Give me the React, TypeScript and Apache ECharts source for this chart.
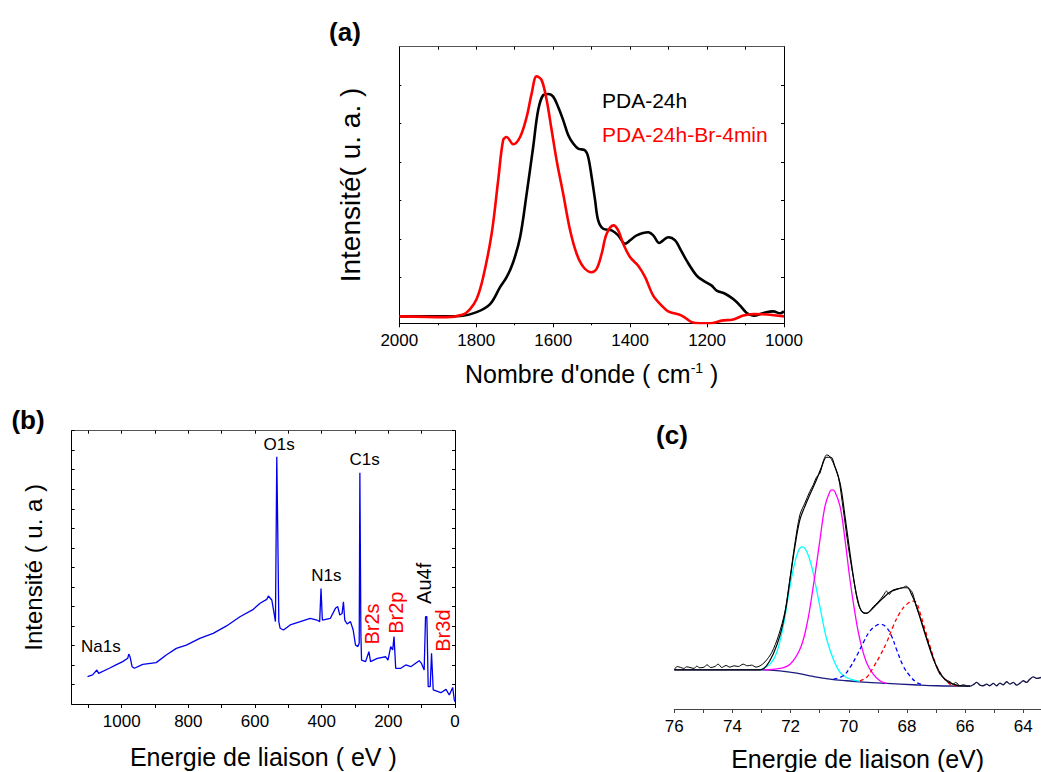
import React, { useEffect, useRef } from "react";
import * as echarts from "echarts";

// ---------- Panel (a): FTIR spectra (wavenumber cm-1, intensity a.u.) ----------
const pda24h: number[][] = [
  [2000, -0.02], [1912, -0.02], [1842, -0.01], [1799, 0.09], [1764, 0.3], [1738, 0.74],
  [1721, 1.0], [1704, 1.39], [1686, 2.04], [1669, 3.17], [1652, 4.39], [1639, 5.35],
  [1626, 5.74], [1613, 5.77], [1600, 5.7], [1587, 5.43], [1574, 5.09], [1561, 4.7],
  [1548, 4.48], [1535, 4.35], [1517, 4.3], [1509, 4.13], [1500, 3.61], [1491, 3.0],
  [1483, 2.48], [1470, 2.26], [1448, 2.22], [1431, 2.09], [1413, 1.87], [1400, 1.96],
  [1383, 2.09], [1353, 2.17], [1340, 2.09], [1324, 1.89], [1314, 1.96], [1301, 2.04],
  [1283, 1.96], [1270, 1.74], [1253, 1.43], [1227, 1.04], [1210, 0.91], [1188, 0.78],
  [1175, 0.65], [1153, 0.57], [1132, 0.43], [1114, 0.26], [1097, 0.07], [1079, 0.0],
  [1053, 0.07], [1028, 0.11], [1010, 0.06], [1000, 0.11],
];
const pda24hBr: number[][] = [
  [2000, -0.02], [1877, -0.04], [1834, 0.03], [1816, 0.17], [1799, 0.43], [1782, 1.0],
  [1760, 2.13], [1743, 3.52], [1730, 4.57], [1721, 4.65], [1704, 4.46], [1686, 4.65],
  [1669, 5.17], [1656, 5.78], [1643, 6.23], [1630, 6.13], [1617, 5.61], [1604, 4.83],
  [1591, 4.04], [1574, 3.17], [1556, 2.22], [1539, 1.61], [1521, 1.26], [1500, 1.13],
  [1487, 1.22], [1474, 1.61], [1461, 2.13], [1443, 2.35], [1431, 2.22], [1418, 1.87],
  [1400, 1.52], [1379, 1.3], [1361, 1.0], [1340, 0.52], [1318, 0.26], [1301, 0.11],
  [1266, 0.0], [1240, -0.17], [1218, -0.2], [1192, -0.2], [1162, -0.13], [1132, -0.1],
  [1106, 0.0], [1079, 0.04], [1045, 0.03], [1000, -0.02],
];
const ftirYTicks = [0, 1, 2, 3, 4, 5, 6];

// ---------- Panel (b): XPS survey (binding energy eV) ----------
const survey: number[][] = [
  [1102.5, 1.4], [1087.4, 1.49], [1074.4, 1.74], [1069.3, 1.57], [1037.2, 1.83], [1017.1, 2.0],
  [997.0, 2.17], [981.9, 2.34], [978.9, 2.56], [974.9, 2.42], [968.8, 1.91], [961.8, 1.83],
  [936.7, 2.03], [896.5, 2.12], [866.3, 2.51], [836.2, 2.85], [806.0, 3.02], [765.8, 3.36],
  [725.6, 3.62], [685.4, 4.0], [645.2, 4.47], [605.0, 4.85], [584.9, 5.16], [564.8, 5.36],
  [559.8, 5.53], [549.7, 5.33], [542.7, 4.64], [538.7, 4.22], [534.7, 12.67], [531.7, 8.74],
  [528.6, 4.22], [524.6, 3.88], [514.6, 3.79], [494.5, 4.05], [464.3, 4.22], [434.2, 4.39],
  [414.1, 4.3], [406.0, 4.22], [402.0, 5.92], [398.0, 4.3], [373.9, 4.39], [358.8, 4.9],
  [351.8, 4.99], [345.7, 4.56], [338.7, 4.64], [334.7, 5.24], [330.7, 4.3], [323.6, 4.1],
  [313.6, 4.22], [305.5, 3.79], [298.5, 3.02], [291.5, 2.94], [287.4, 3.11], [285.4, 11.85],
  [282.4, 3.62], [280.4, 2.25], [268.3, 2.17], [258.3, 2.68], [253.3, 2.17], [233.2, 2.34],
  [208.0, 2.42], [201.0, 2.25], [193.0, 2.94], [186.9, 2.77], [182.9, 3.45], [177.9, 1.83],
  [162.8, 1.83], [147.7, 2.0], [132.7, 1.91], [107.5, 2.22], [100.5, 2.08], [92.5, 1.74],
  [88.4, 4.47], [84.4, 4.47], [80.4, 0.89], [74.4, 0.89], [70.4, 2.6], [65.3, 0.72],
  [42.2, 0.58], [27.1, 0.75], [17.1, 0.46], [7.0, 0.85], [2.0, 0.2], [0, 0.12],
];
const peakNames = ["O1s", "C1s", "N1s", "Na1s", "Br2s", "Br2p", "Au4f", "Br3d"];
const peakPos: number[][] = [
  [527.6, 13.27], [271.4, 12.53], [385.9, 6.56], [1062.3, 2.94],
  [248.2, 4.1], [175.9, 4.68], [94.5, 6.18], [37.2, 3.76],
];
const peakColors = ["#000", "#000", "#000", "#000", "#ff0000", "#ff0000", "#000", "#ff0000"];
const peakRotate = [0, 0, 0, 0, 90, 90, 90, 90];

// ---------- Panel (c): Br3d high-resolution ----------
const br3dLabels = [64, 66, 68, 70, 72, 74, 76];
const br3dTicks = [64, 65, 66, 67, 68, 69, 70, 71, 72, 73, 74, 75, 76];
const br3dRaw: number[][] = [
  [76.0, 11.8], [75.9, 12.8], [75.78, 12.5], [75.67, 12.2], [75.58, 12.7], [75.46, 12.5],
  [75.32, 12.2], [75.23, 12.9], [75.12, 12.4], [74.98, 12.6], [74.87, 13.3], [74.75, 12.5],
  [74.6, 12.8], [74.49, 13.5], [74.37, 12.5], [74.22, 13.1], [74.09, 12.6], [73.95, 13.0],
  [73.8, 12.8], [73.63, 13.5], [73.49, 13.0], [73.34, 13.2], [73.19, 12.6], [73.05, 13.0],
  [72.88, 14.2], [72.65, 17.0], [72.42, 22.0], [72.19, 29.5], [72.02, 39.5], [71.85, 50.0],
  [71.68, 58.5], [71.51, 62.0], [71.34, 65.5], [71.22, 67.5], [71.11, 69.8], [70.99, 71.0],
  [70.88, 74.5], [70.76, 76.5], [70.67, 76.2], [70.53, 74.0], [70.36, 70.0], [70.19, 60.0],
  [70.02, 49.0], [69.85, 40.0], [69.71, 33.0], [69.59, 29.8], [69.44, 28.8], [69.3, 29.2],
  [69.16, 30.8], [68.99, 32.2], [68.81, 34.2], [68.7, 35.5], [68.61, 34.5], [68.49, 35.8],
  [68.3, 36.2], [68.15, 36.5], [68.03, 37.0], [67.92, 36.2], [67.81, 35.0], [67.67, 30.5],
  [67.53, 27.2], [67.38, 23.0], [67.21, 18.5], [67.04, 14.0], [66.87, 10.5], [66.69, 9.0],
  [66.52, 8.2], [66.41, 7.5], [66.32, 8.0], [66.18, 7.0], [66.06, 7.3], [65.93, 6.9],
];
const br3dTail: number[][] = [
  [65.93, 6.9], [65.83, 6.9], [65.72, 7.3], [65.6, 8.0], [65.49, 7.2], [65.38, 7.0],
  [65.26, 7.5], [65.15, 7.0], [65.03, 7.7], [64.92, 7.0], [64.8, 7.8], [64.69, 7.3],
  [64.57, 8.2], [64.46, 7.5], [64.34, 8.0], [64.23, 7.2], [64.11, 7.8], [64.0, 8.5],
  [63.89, 8.0], [63.77, 9.0], [63.66, 9.7], [63.54, 9.2], [63.39, 9.5],
];
const br3dEnvelope: number[][] = [
  [76.0, 11.8], [73.05, 11.8], [72.83, 13.0], [72.6, 16.5], [72.37, 22.0], [72.19, 29.0],
  [72.02, 39.0], [71.85, 49.0], [71.68, 57.0], [71.51, 61.0], [71.34, 64.5], [71.11, 69.0],
  [70.93, 73.0], [70.76, 75.8], [70.62, 75.8], [70.48, 73.0], [70.3, 68.0], [70.13, 58.0],
  [69.96, 47.0], [69.79, 37.0], [69.67, 32.0], [69.56, 29.5], [69.39, 28.8], [69.27, 29.5],
  [69.04, 31.5], [68.81, 33.5], [68.58, 35.2], [68.36, 36.0], [68.13, 36.5], [67.99, 36.5],
  [67.84, 34.5], [67.67, 31.0], [67.5, 26.0], [67.32, 21.0], [67.09, 15.0], [66.87, 11.0],
  [66.64, 8.5], [66.41, 7.5], [66.18, 7.0], [65.83, 6.9],
];
const br3dBackground: number[][] = [
  [76.0, 11.8], [72.94, 11.8], [72.37, 11.5], [71.79, 10.8], [71.22, 9.8], [70.65, 9.0],
  [70.07, 8.5], [69.5, 8.1], [68.7, 7.7], [67.78, 7.3], [66.98, 7.0], [65.83, 6.9],
];
const compCyan: number[][] = [
  [73.05, 11.8], [72.71, 13.5], [72.48, 17.0], [72.25, 25.0], [72.08, 34.0], [71.91, 42.0],
  [71.74, 47.5], [71.6, 48.8], [71.45, 47.5], [71.28, 43.0], [71.11, 36.0], [70.93, 28.0],
  [70.76, 21.0], [70.53, 15.0], [70.3, 11.0], [70.07, 9.5], [69.85, 8.8], [69.62, 8.3],
];
const compMagenta: number[][] = [
  [72.94, 11.8], [72.37, 12.2], [72.02, 13.5], [71.68, 18.0], [71.45, 25.0], [71.22, 37.0],
  [70.99, 51.0], [70.82, 61.0], [70.65, 65.5], [70.57, 66.0], [70.48, 65.5], [70.3, 61.0],
  [70.13, 51.0], [69.96, 39.0], [69.79, 29.0], [69.62, 21.0], [69.39, 14.0], [69.16, 10.5],
  [68.93, 8.5], [68.7, 7.7],
];
const compBlue: number[][] = [
  [70.53, 9.0], [70.19, 10.0], [69.96, 12.5], [69.73, 16.0], [69.5, 20.0], [69.27, 23.5],
  [69.04, 25.2], [68.89, 25.5], [68.7, 24.5], [68.53, 22.0], [68.36, 18.0], [68.13, 13.0],
  [67.9, 10.0], [67.67, 8.0], [67.44, 7.2],
];
const compRed: number[][] = [
  [69.62, 8.5], [69.39, 9.5], [69.16, 12.5], [68.93, 16.0], [68.7, 20.0], [68.47, 25.0],
  [68.24, 29.0], [68.01, 31.5], [67.78, 32.5], [67.67, 32.0], [67.55, 29.0], [67.38, 24.0],
  [67.21, 19.0], [66.98, 13.0], [66.75, 9.5], [66.52, 7.5], [66.29, 7.0],
];

const FONT = '"Liberation Sans", Arial, Helvetica, sans-serif';

function buildOption(): any {
  const frameLine = { show: true, onZero: false, lineStyle: { color: "#000", width: 1 } };
  const tickLabel = { fontSize: 17, color: "#000", fontFamily: FONT, margin: 9 };
  const titleStyle = { fontSize: 24, color: "#000", fontFamily: FONT };
  const plain = (v: number) => String(v);

  return {
    animation: false,
    backgroundColor: "#fff",
    textStyle: { fontFamily: FONT },
    grid: [
      { left: 399.3, top: 46.7, width: 384.7, height: 276.6 },
      { left: 71.7, top: 430.7, width: 383.3, height: 273.3 },
      { left: 674.3, top: 443.3, right: 0, height: 266.7 },
    ],
    legend: {
      orient: "vertical",
      left: 592,
      top: 85,
      icon: "none",
      itemWidth: 0,
      itemHeight: 21,
      itemGap: 13,
      selectedMode: false,
      textStyle: { fontSize: 21, fontFamily: FONT },
      data: [
        { name: "PDA-24h", textStyle: { color: "#000" } },
        { name: "PDA-24h-Br-4min", textStyle: { color: "#ff0000" } },
      ],
    },
    xAxis: [
      {
        gridIndex: 0, type: "value", min: 1000, max: 2000, inverse: true, interval: 200,
        axisLine: frameLine,
        axisTick: { show: true, inside: false, length: 4, lineStyle: { color: "#000" } },
        minorTick: { show: true, splitNumber: 2, length: 2, lineStyle: { color: "#000" } },
        axisLabel: { ...tickLabel, formatter: plain },
        splitLine: { show: false },
        name: "Nombre d'onde ( cm{sup|-1} )",
        nameLocation: "middle",
        nameGap: 38,
        nameTextStyle: { ...titleStyle, fontSize: 25, rich: { sup: { fontSize: 14, verticalAlign: "top", color: "#000", fontFamily: FONT } } },
      },
      {
        gridIndex: 0, type: "value", min: 1000, max: 2000, inverse: true, interval: 100, position: "top",
        axisLine: { show: true, onZero: false, lineStyle: { color: "#555", width: 1 } },
        axisTick: { show: true, inside: true, length: 3, lineStyle: { color: "#000" } },
        axisLabel: { show: false }, splitLine: { show: false },
      },
      {
        gridIndex: 1, type: "value", min: 0, max: 1150, inverse: true, interval: 100,
        axisLine: frameLine,
        axisTick: { show: true, inside: false, length: 4, lineStyle: { color: "#000" } },
        axisLabel: { ...tickLabel, showMaxLabel: false, formatter: (v: number) => (v % 200 === 0 ? String(v) : "") },
        splitLine: { show: false },
        name: "Energie de liaison ( eV )",
        nameLocation: "middle",
        nameGap: 40,
        nameTextStyle: { ...titleStyle, fontSize: 25 },
      },
      {
        gridIndex: 1, type: "value", min: 0, max: 1150, inverse: true, interval: 100, position: "top",
        axisLine: { show: true, onZero: false, lineStyle: { color: "#555", width: 1 } },
        axisTick: { show: true, inside: true, length: 3, lineStyle: { color: "#000" } },
        axisLabel: { show: false }, splitLine: { show: false },
      },
      {
        gridIndex: 2, type: "value", min: 63.39, max: 76, inverse: true,
        axisLine: { show: true, onZero: false, lineStyle: { color: "#444", width: 1 } },
        axisTick: { show: true, inside: false, length: 4, customValues: br3dTicks, lineStyle: { color: "#444" } },
        axisLabel: { ...tickLabel, customValues: br3dLabels, formatter: plain },
        splitLine: { show: false },
        name: "Energie de liaison (eV)",
        nameLocation: "middle",
        nameGap: 37,
        nameTextStyle: { ...titleStyle, fontSize: 25 },
      },
    ],
    yAxis: [
      {
        gridIndex: 0, type: "value", min: -0.2, max: 7,
        axisLine: frameLine,
        axisTick: { show: true, inside: true, length: 2, customValues: ftirYTicks, lineStyle: { color: "#000" } },
        axisLabel: { show: false }, splitLine: { show: false },
        name: "Intensité( u. a. )",
        nameLocation: "middle",
        nameGap: 35,
        nameRotate: 90,
        nameTextStyle: { ...titleStyle, fontSize: 28 },
      },
      {
        gridIndex: 0, type: "value", min: -0.2, max: 7, position: "right",
        axisLine: frameLine,
        axisTick: { show: true, inside: true, length: 3, customValues: ftirYTicks, lineStyle: { color: "#000" } },
        axisLabel: { show: false }, splitLine: { show: false },
      },
      {
        gridIndex: 1, type: "value", min: 0, max: 14, interval: 1,
        axisLine: frameLine,
        axisTick: { show: true, inside: true, length: 3, lineStyle: { color: "#000" } },
        axisLabel: { show: false }, splitLine: { show: false },
        name: "Intensité ( u. a )",
        nameLocation: "middle",
        nameGap: 26,
        nameRotate: 90,
        nameTextStyle: { ...titleStyle, fontSize: 24 },
      },
      {
        gridIndex: 1, type: "value", min: 0, max: 14, interval: 1, position: "right",
        axisLine: frameLine,
        axisTick: { show: true, inside: true, length: 3, lineStyle: { color: "#000" } },
        axisLabel: { show: false }, splitLine: { show: false },
      },
      {
        gridIndex: 2, type: "value", min: 0, max: 80, show: false,
        splitLine: { show: false },
      },
    ],
    series: [
      { name: "PDA-24h", type: "line", xAxisIndex: 0, yAxisIndex: 0, data: pda24h, showSymbol: false, smooth: 0.35, lineStyle: { color: "#000", width: 2.6 }, itemStyle: { color: "#000" } },
      { name: "PDA-24h-Br-4min", type: "line", xAxisIndex: 0, yAxisIndex: 0, data: pda24hBr, showSymbol: false, smooth: 0.35, lineStyle: { color: "#ff0000", width: 2.6 }, itemStyle: { color: "#ff0000" } },
      { name: "survey", type: "line", xAxisIndex: 2, yAxisIndex: 2, data: survey, showSymbol: false, lineStyle: { color: "#0000ee", width: 1.3 } },
      {
        name: "peaks", type: "scatter", xAxisIndex: 2, yAxisIndex: 2, symbolSize: 1,
        itemStyle: { color: "transparent", opacity: 1 }, silent: true,
        data: peakNames.map((n, i) => ({
          name: n,
          value: peakPos[i],
          label: {
            show: true, position: "inside", formatter: n, color: peakColors[i], opacity: 1,
            textBorderWidth: 0, textBorderColor: "transparent",
            rotate: peakRotate[i], fontSize: peakRotate[i] ? 20 : 17, fontFamily: FONT,
            align: "center", verticalAlign: "middle",
          },
        })),
      },
      { name: "background", type: "line", xAxisIndex: 4, yAxisIndex: 4, data: br3dBackground, showSymbol: false, smooth: 0.4, lineStyle: { color: "#1a1a80", width: 1.3 } },
      { name: "cyan", type: "line", xAxisIndex: 4, yAxisIndex: 4, data: compCyan, showSymbol: false, smooth: 0.4, lineStyle: { color: "#00ffff", width: 1.3 } },
      { name: "magenta", type: "line", xAxisIndex: 4, yAxisIndex: 4, data: compMagenta, showSymbol: false, smooth: 0.4, lineStyle: { color: "#ff00ff", width: 1.3 } },
      { name: "blue", type: "line", xAxisIndex: 4, yAxisIndex: 4, data: compBlue, showSymbol: false, smooth: 0.4, lineStyle: { color: "#0000ff", width: 1.3, type: [4, 3] } },
      { name: "red", type: "line", xAxisIndex: 4, yAxisIndex: 4, data: compRed, showSymbol: false, smooth: 0.4, lineStyle: { color: "#ff0000", width: 1.3, type: [4, 3] } },
      { name: "envelope", type: "line", xAxisIndex: 4, yAxisIndex: 4, data: br3dEnvelope, showSymbol: false, smooth: 0.4, lineStyle: { color: "#000", width: 1.2 } },
      { name: "raw", type: "line", xAxisIndex: 4, yAxisIndex: 4, data: br3dRaw, showSymbol: false, smooth: 0.3, lineStyle: { color: "#000", width: 1 } },
      { name: "tail", type: "line", xAxisIndex: 4, yAxisIndex: 4, data: br3dTail, showSymbol: false, smooth: 0.3, lineStyle: { color: "#14144a", width: 1.3 } },
    ],
    graphic: [
      { type: "text", x: 345, y: 32, style: { text: "(a)", font: `bold 26px ${FONT}`, fill: "#000", align: "center", verticalAlign: "middle" } },
      { type: "text", x: 28, y: 420, style: { text: "(b)", font: `bold 26px ${FONT}`, fill: "#000", align: "center", verticalAlign: "middle" } },
      { type: "text", x: 672, y: 435, style: { text: "(c)", font: `bold 26px ${FONT}`, fill: "#000", align: "center", verticalAlign: "middle" } },
    ],
  };
}

export default function App() {
  const ref = useRef<HTMLDivElement>(null);
  useEffect(() => {
    if (!ref.current) return;
    const chart = echarts.init(ref.current, undefined, { renderer: "svg" });
    chart.setOption(buildOption());
    return () => chart.dispose();
  }, []);
  return (
    <div
      ref={ref}
      style={{ position: "absolute", left: 0, top: 0, width: 1041, height: 772, background: "#fff" }}
    />
  );
}
